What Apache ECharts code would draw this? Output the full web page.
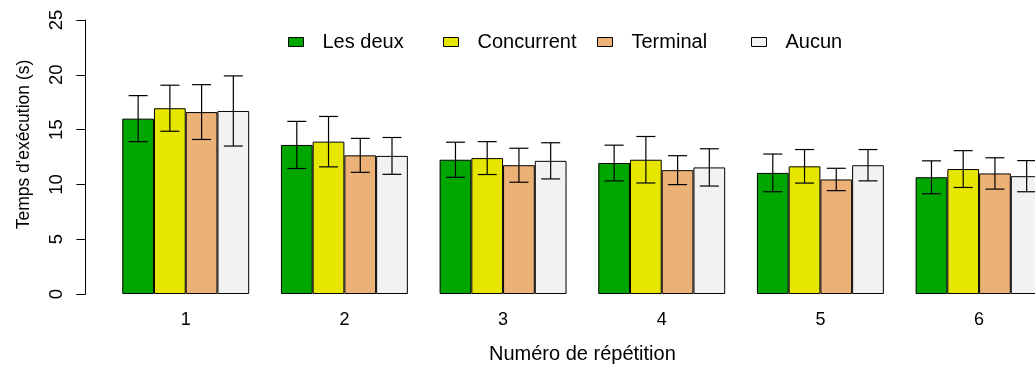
<!DOCTYPE html>
<html>
<head>
<meta charset="utf-8">
<script src="https://cdn.jsdelivr.net/npm/echarts@6/dist/echarts.min.js"></script>
<style>
html,body{margin:0;padding:0;background:#fff;overflow:hidden;}
#chart{width:1060px;height:369px;}
</style>
</head>
<body>
<div id="chart"></div>
<script>
// ---- data ----
const categories = ['1', '2', '3', '4', '5', '6'];
const seriesNames = ['Les deux', 'Concurrent', 'Terminal', 'Aucun'];
const lesDeux    = [16.0, 13.6, 12.25, 11.95, 11.05, 10.65];
const concurrent = [16.95, 13.9, 12.4, 12.25, 11.65, 11.4];
const terminal   = [16.6, 12.65, 11.75, 11.3, 10.45, 11.0];
const aucun      = [16.7, 12.6, 12.15, 11.55, 11.75, 10.75];
const errLesDeux    = [2.1, 2.15, 1.6, 1.63, 1.72, 1.5];
const errConcurrent = [2.1, 2.3, 1.5, 2.12, 1.53, 1.68];
const errTerminal   = [2.5, 1.55, 1.55, 1.32, 1.02, 1.43];
const errAucun      = [3.2, 1.68, 1.65, 1.7, 1.43, 1.42];
const yTicks = [0, 5, 10, 15, 20, 25];

const means = [lesDeux, concurrent, terminal, aucun];
const errs = [errLesDeux, errConcurrent, errTerminal, errAucun];
const colors = ['#00A600', '#E6E600', '#ECB176', '#F2F2F2'];
const FONT = "'Liberation Sans', Arial, Helvetica, sans-serif";

const chart = echarts.init(document.getElementById('chart'));

const barSeries = seriesNames.map((n, k) => ({
  name: n,
  type: 'bar',
  data: means[k],
  barGap: '0%',
  barCategoryGap: '20%',
  itemStyle: { color: colors[k], borderColor: '#000', borderWidth: 1 },
  z: 2
}));

const errSeries = seriesNames.map((n, k) => ({
  name: 'err_' + k,
  type: 'custom',
  z: 5,
  data: categories.map((c, i) => [i, means[k][i] - errs[k][i], means[k][i] + errs[k][i]]),
  renderItem: function (params, api) {
    const i = api.value(0);
    const lo = api.coord([i, api.value(1)]);
    const hi = api.coord([i, api.value(2)]);
    const band = api.size([1, 0])[0];
    const bw = band * 0.2;
    const x = lo[0] + (k - 1.5) * bw;
    const cap = 9.5;
    const st = { stroke: '#000', lineWidth: 1.2 };
    return {
      type: 'group',
      children: [
        { type: 'line', shape: { x1: x, y1: lo[1], x2: x, y2: hi[1] }, style: st },
        { type: 'line', shape: { x1: x - cap, y1: lo[1], x2: x + cap, y2: lo[1] }, style: st },
        { type: 'line', shape: { x1: x - cap, y1: hi[1], x2: x + cap, y2: hi[1] }, style: st }
      ]
    };
  }
}));

const legendLefts = [288, 443, 597, 751];
const legends = seriesNames.map((n, k) => ({
  data: [n],
  left: legendLefts[k],
  top: 30,
  padding: 0,
  selectedMode: false,
  icon: 'rect',
  itemWidth: 15,
  itemHeight: 9,
  itemStyle: { borderColor: '#000', borderWidth: 1 },
  textStyle: { fontFamily: FONT, fontSize: 20, color: '#000', padding: [0, 0, 0, 14], lineHeight: 24 }
}));

chart.setOption({
  animation: false,
  backgroundColor: '#fff',
  legend: legends,
  grid: { left: 106.4, top: 20, width: 952, height: 274.7 },
  xAxis: {
    type: 'category',
    data: categories,
    axisLine: { show: false },
    axisTick: { show: false },
    axisLabel: { fontFamily: FONT, fontSize: 18, color: '#000', margin: 17 },
    name: 'Numéro de répétition',
    nameLocation: 'middle',
    nameGap: 50,
    nameTextStyle: { fontFamily: FONT, fontSize: 20, color: '#000' }
  },
  yAxis: {
    type: 'value',
    min: yTicks[0],
    max: yTicks[yTicks.length - 1],
    interval: 5,
    offset: 21,
    splitLine: { show: false },
    axisLine: { show: true, lineStyle: { color: '#000', width: 1 } },
    axisTick: { show: true, length: 9, lineStyle: { color: '#000', width: 1 } },
    axisLabel: { fontFamily: FONT, fontSize: 18.5, color: '#000', rotate: 90, margin: 19 },
    name: "Temps d'exécution (s)",
    nameLocation: 'middle',
    nameGap: 52,
    nameTextStyle: { fontFamily: FONT, fontSize: 17.5, color: '#000', padding: [0, 0, 0, 25] }
  },
  series: barSeries.concat(errSeries)
});
</script>
</body>
</html>
